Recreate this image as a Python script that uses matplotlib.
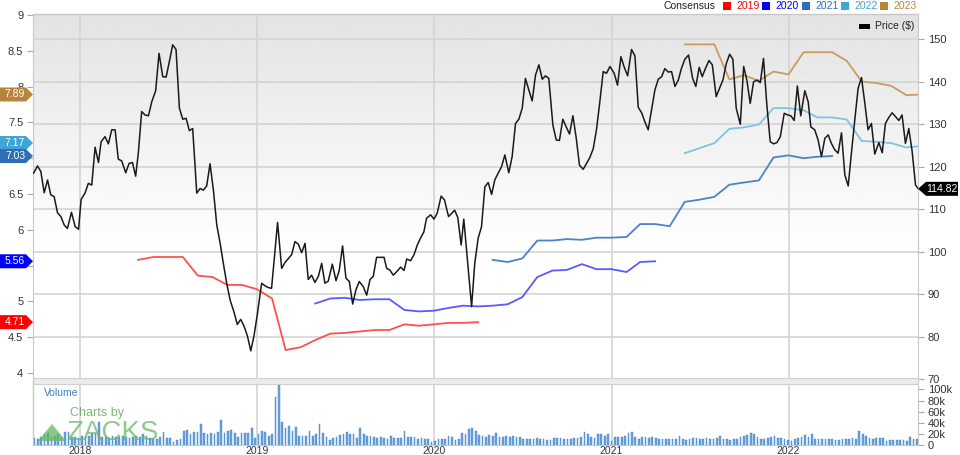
import numpy as np
import pandas as pd
import matplotlib
matplotlib.use('Agg')
import matplotlib.pyplot as plt
from matplotlib.patches import Polygon, Rectangle
from matplotlib.ticker import FuncFormatter

plt.rcParams['font.family'] = ['Liberation Sans', 'DejaVu Sans']

# ---- data ----
# weekly closing price, dates as fractional years
price_t = [
    2017.737, 2017.759, 2017.778, 2017.797, 2017.816, 2017.834, 2017.853, 2017.872, 2017.891, 2017.910,
    2017.928, 2017.951, 2017.972, 2017.991, 2018.006, 2018.028, 2018.047, 2018.066, 2018.085, 2018.104,
    2018.119, 2018.141, 2018.160, 2018.179, 2018.198, 2018.216, 2018.235, 2018.258, 2018.277, 2018.296,
    2018.314, 2018.329, 2018.348, 2018.367, 2018.386, 2018.405, 2018.427, 2018.446, 2018.467, 2018.486,
    2018.504, 2018.523, 2018.542, 2018.561, 2018.580, 2018.599, 2018.617, 2018.636, 2018.659, 2018.678,
    2018.696, 2018.715, 2018.734, 2018.753, 2018.772, 2018.791, 2018.809, 2018.828, 2018.847, 2018.870,
    2018.888, 2018.907, 2018.926, 2018.945, 2018.964, 2018.982, 2019.001,
    2019.026, 2019.045, 2019.063, 2019.082, 2019.116, 2019.139, 2019.158, 2019.195, 2019.214, 2019.233,
    2019.252, 2019.271, 2019.289, 2019.308, 2019.327, 2019.346, 2019.365, 2019.383, 2019.402, 2019.425,
    2019.446, 2019.464, 2019.483, 2019.502, 2019.521, 2019.540, 2019.558, 2019.577, 2019.600, 2019.619,
    2019.638, 2019.656, 2019.675, 2019.698, 2019.717, 2019.732, 2019.750, 2019.769, 2019.788, 2019.811,
    2019.830, 2019.845, 2019.867, 2019.886, 2019.905, 2019.924, 2019.942, 2019.957, 2019.980, 2019.999,
    2020.018, 2020.040, 2020.059, 2020.082, 2020.101, 2020.116, 2020.134, 2020.153, 2020.168, 2020.212,
    2020.230, 2020.249, 2020.268, 2020.287, 2020.306, 2020.325, 2020.343, 2020.362, 2020.381, 2020.400,
    2020.422, 2020.441, 2020.460, 2020.479, 2020.498, 2020.516, 2020.535, 2020.554, 2020.573, 2020.592,
    2020.611, 2020.629, 2020.648, 2020.671, 2020.690, 2020.708, 2020.727, 2020.746, 2020.765, 2020.784,
    2020.803, 2020.821, 2020.842, 2020.861, 2020.880, 2020.899, 2020.917, 2020.936, 2020.955, 2020.974,
    2020.993, 2021.015, 2021.034, 2021.053, 2021.072, 2021.091, 2021.113, 2021.132, 2021.151, 2021.170,
    2021.188, 2021.207, 2021.226, 2021.245, 2021.264, 2021.283, 2021.301, 2021.320, 2021.339, 2021.358,
    2021.377, 2021.395, 2021.414, 2021.435, 2021.458, 2021.476, 2021.495,
    2021.512, 2021.531, 2021.550, 2021.569, 2021.591, 2021.610, 2021.629, 2021.648, 2021.667, 2021.685,
    2021.704, 2021.727, 2021.746, 2021.764, 2021.783, 2021.802, 2021.821, 2021.840, 2021.858, 2021.877,
    2021.896, 2021.915, 2021.934, 2021.953, 2021.975, 2021.994, 2022.013, 2022.032, 2022.050, 2022.069,
    2022.092, 2022.111, 2022.126, 2022.148, 2022.167, 2022.186, 2022.205, 2022.224, 2022.242, 2022.261,
    2022.280, 2022.299, 2022.318, 2022.337, 2022.355, 2022.374, 2022.393, 2022.412, 2022.431, 2022.449,
    2022.468, 2022.487, 2022.510, 2022.529, 2022.547, 2022.566, 2022.585, 2022.604, 2022.623, 2022.641,
    2022.660, 2022.679, 2022.698, 2022.717, 2022.733,
]
price = [
    118.5, 120.2, 118.9, 113.9, 116.9, 113.4, 113.0, 109.2, 108.3, 106.3,
    105.5, 109.3, 105.9, 105.3, 112.3, 113.8, 116.1, 115.7, 124.6, 121.0,
    125.9, 127.1, 125.4, 128.7, 128.7, 121.8, 121.4, 118.6, 120.8, 121.0,
    117.8, 123.2, 133.0, 132.2, 132.0, 135.3, 137.9, 146.7, 141.2, 141.1,
    144.7, 148.7, 147.6, 133.8, 131.2, 131.4, 128.5, 129.0, 113.8, 114.9,
    114.5, 115.5, 120.7, 114.5, 106.3, 102.0, 97.3, 92.6, 88.7, 85.7,
    82.9, 84.1, 82.5, 80.2, 76.7, 80.2, 85.1,
    92.6, 92.0, 91.6, 91.4, 106.9, 96.1, 97.5, 99.3, 102.4, 101.8,
    99.8, 102.0, 93.5, 94.5, 92.8, 94.2, 97.3, 92.6, 93.1, 97.1,
    93.2, 95.6, 101.4, 93.8, 93.0, 87.7, 91.0, 93.0, 91.8, 89.8,
    93.5, 94.2, 98.7, 98.7, 98.7, 96.1, 95.7, 94.5, 95.3, 96.4,
    95.6, 98.3, 97.9, 99.3, 101.6, 103.3, 104.7, 107.9, 108.7, 107.7,
    109.1, 113.1, 112.2, 108.3, 109.1, 109.8, 108.1, 101.6, 107.7, 87.1,
    97.3, 103.2, 105.9, 115.3, 116.3, 113.5, 116.9, 118.5, 120.0, 122.8,
    118.6, 122.4, 130.2, 131.2, 133.8, 140.8, 138.1, 135.5, 141.6, 144.0,
    140.6, 141.4, 140.8, 129.8, 126.3, 126.2, 131.2, 129.4, 127.7, 132.0,
    126.7, 120.4, 119.4, 120.8, 122.2, 124.3, 128.7, 135.3, 142.4, 142.0,
    143.6, 142.0, 139.2, 145.9, 143.4, 141.4, 147.6, 146.1, 134.0, 132.7,
    130.6, 128.7, 133.4, 138.1, 140.6, 141.2, 143.1, 142.3, 142.4, 138.9,
    140.4, 143.2, 145.3, 146.3, 140.8, 138.9, 143.4,
    141.2, 143.2, 145.0, 144.0, 136.5, 138.5, 140.4, 144.3, 146.5, 145.3,
    133.8, 130.0, 143.6, 140.4, 134.9, 140.0, 140.4, 139.8, 145.5, 134.5,
    125.9, 125.4, 125.7, 127.1, 132.6, 132.2, 132.0, 130.9, 139.0, 132.0,
    137.9, 135.3, 129.4, 128.7, 126.3, 122.4, 126.7, 127.5, 125.5, 124.0,
    123.2, 128.0, 118.1, 115.5, 123.2, 131.0, 138.5, 141.0, 134.9, 128.7,
    130.2, 123.0, 125.7, 123.3, 130.2, 131.6, 132.7, 131.8, 130.9, 132.2,
    125.5, 129.0, 123.6, 115.7, 114.82,
]

# monthly consensus EPS estimates by fiscal year
est_2019_m = ['2018-04', '2018-05', '2018-07', '2018-08', '2018-09', '2018-10', '2018-11', '2018-12',
              '2019-01', '2019-02', '2019-03', '2019-04', '2019-05', '2019-06', '2019-08', '2019-09',
              '2019-10', '2019-11', '2019-12', '2020-01', '2020-02', '2020-03']
est_2019 = [5.58, 5.62, 5.62, 5.36, 5.34, 5.23, 5.23, 5.17, 5.04, 4.32, 4.36, 4.46, 4.55, 4.56,
            4.60, 4.60, 4.68, 4.66, 4.68, 4.70, 4.70, 4.71]

est_2020_m = [str(p) for p in pd.period_range('2019-04', '2021-03', freq='M')]
est_2020 = [4.97, 5.04, 5.05, 5.02, 5.03, 5.03, 4.88, 4.86, 4.87, 4.91, 4.94, 4.93,
            4.94, 4.96, 5.06, 5.34, 5.43, 5.44, 5.52, 5.45, 5.45, 5.41, 5.55, 5.56]

est_2021_m = [str(p) for p in pd.period_range('2020-04', '2022-03', freq='M')]
est_2021 = [5.58, 5.55, 5.60, 5.85, 5.85, 5.87, 5.86, 5.89, 5.89, 5.90, 6.08, 6.08,
            6.05, 6.39, 6.42, 6.46, 6.63, 6.66, 6.69, 7.01, 7.04, 7.00, 7.02, 7.03]

est_late_m = ['2021-05', '2021-07', '2021-08', '2021-09', '2021-10', '2021-11', '2021-12', '2022-01',
              '2022-02', '2022-03', '2022-04', '2022-05', '2022-06', '2022-07', '2022-08', '2022-09']
est_2022 = [7.07, 7.21, 7.41, 7.43, 7.47, 7.70, 7.70, 7.67, 7.57, 7.57, 7.54, 7.24, 7.23, 7.21, 7.15, 7.17]
est_2023 = [8.59, 8.59, 8.10, 8.16, 8.08, 8.21, 8.17, 8.48, 8.48, 8.48, 8.36, 8.07, 8.05, 8.01, 7.88, 7.89]

# weekly volume in thousands, first week ending 2017-09-29
volume = [
    12, 11, 14, 19, 21, 14, 17, 19, 15, 23, 23, 15, 14, 13, 17, 14, 16, 19, 20, 42,
    14, 14, 13, 17, 15, 14, 17, 14, 12, 15, 17, 14, 20, 17, 13, 11, 10, 14, 23, 13,
    13, 6, 9, 11, 26, 27, 20, 23, 24, 37, 21, 19, 21, 19, 23, 45, 22, 26, 27, 21,
    14, 21, 21, 21, 30, 13, 20, 26, 23, 17, 19, 87, 108, 41, 31, 34, 26, 32, 17, 17,
    16, 26, 17, 20, 38, 21, 14, 9, 13, 14, 18, 20, 23, 20, 20, 13, 30, 20, 16, 16,
    14, 13, 15, 12, 11, 17, 13, 13, 13, 25, 14, 15, 15, 10, 12, 11, 10, 6, 8, 11,
    11, 10, 17, 14, 9, 11, 21, 20, 28, 30, 26, 18,
    17, 14, 18, 17, 22, 14, 15, 17, 15, 16, 15, 14, 10, 11, 11, 10, 12, 11, 10, 9,
    9, 13, 13, 12, 11, 11, 11, 13, 12, 14, 23, 20, 14, 12, 20, 19, 17, 20, 8, 14,
    14, 14, 17, 21, 23, 14, 10, 14, 15, 13, 14, 12, 11, 11, 11, 11, 11, 11, 17, 11,
    9, 10, 12, 12, 11, 10, 12, 11, 11, 13, 17, 10, 11, 9, 11, 11, 14, 17, 18, 22,
    20, 14, 10, 10, 13, 15, 17, 13, 12, 11, 9, 8, 10, 12, 14, 18, 14, 19, 11, 10,
    10, 10, 10, 10, 9, 9, 10, 11, 11, 12, 11, 26, 20, 17, 13, 11, 13, 13, 13, 8,
    9, 9, 9, 9, 9, 8, 14, 11, 10, 14, 9,
]

years = ['2018', '2019', '2020', '2021', '2022']
legend_years = ['2019', '2020', '2021', '2022', '2023']
legend_cols = ['#ff0000', '#0000ff', '#2f6db5', '#3ea5d6', '#b8843c']
line_cols = ['#ff5050', '#5a5aff', '#4a84c6', '#7fc4e0', '#c99d5e']
last_price = 114.82
# left-axis tick labels that sit fully under a value tag in the original
hidden_ticks = [5.5, 7.0]


def frac_to_date(t):
    y = int(t)
    return pd.Timestamp(year=y, month=1, day=1) + pd.Timedelta(days=(t - y) * 365.25)


def month_end(ms):
    return pd.PeriodIndex(ms, freq='M').to_timestamp(how='end')


price_dates = [frac_to_date(t) for t in price_t]
vol_dates = pd.date_range('2017-09-29', periods=len(volume), freq='7D')
year_dates = [pd.Timestamp(y + '-01-01') for y in years]
xlim = (pd.Timestamp('2017-09-26'), pd.Timestamp('2022-09-25'))

W, H = 960, 455
fig = plt.figure(figsize=(W / 100, H / 100), dpi=100)


def rect(x0, y0, x1, y1):
    return [x0 / W, 1 - y1 / H, (x1 - x0) / W, (y1 - y0) / H]


def fp(x, y):
    return (x / W, 1 - y / H)


main_rect = rect(33, 14, 918, 380)
plim = (69.84, 155.95)
elim = (3.902, 9.014)

# background axis: gradient + grid
bg = fig.add_axes(main_rect, zorder=0)
f = np.linspace(0, 1, 256)
shade = 1 - 0.11 * np.clip((f - 0.35) / 0.65, 0, 1)
bg.imshow(shade[:, None], extent=[0, 1, 0, 1], transform=bg.transAxes, origin='lower',
          aspect='auto', cmap='gray', vmin=0, vmax=1, zorder=0)
bg.set_xlim(xlim)
bg.set_ylim(plim)
bg.set_yticks(range(80, 151, 10))
bg.set_xticks(year_dates)
bg.grid(True, color='#d4d4d4', lw=1.2)
bg.tick_params(left=False, bottom=False, labelleft=False, labelbottom=False)
for s in bg.spines.values():
    s.set_visible(False)

# estimates (left axis)
ax = fig.add_axes(main_rect, zorder=1)
ax.patch.set_alpha(0)
for m, v, c in zip([est_2019_m, est_2020_m, est_2021_m, est_late_m, est_late_m],
                   [est_2019, est_2020, est_2021, est_2022, est_2023], line_cols):
    ax.plot(month_end(m), v, color=c, lw=1.3)
ax.set_xlim(xlim)
ax.set_ylim(elim)
ax.set_yticks(np.arange(4, 9.01, 0.5))
ax.yaxis.set_major_formatter(FuncFormatter(
    lambda v, p: '' if any(abs(v - h) < 1e-6 for h in hidden_ticks) else f'{v:g}'))
ax.tick_params(axis='y', length=4, color='#aaaaaa', labelsize=8, labelcolor='#333333', pad=3)
ax.tick_params(axis='x', bottom=False, labelbottom=False)
for s in ['top', 'bottom', 'right']:
    ax.spines[s].set_visible(False)
ax.spines['left'].set_color('#c8c8c8')

# price (right axis)
axp = ax.twinx()
axp.plot(price_dates, price, color='#1a1a1a', lw=1.1)
axp.set_ylim(plim)
axp.set_xlim(xlim)
axp.set_yticks(range(70, 151, 10))
axp.tick_params(axis='y', length=4, color='#aaaaaa', labelsize=8, labelcolor='#333333', pad=3)
for s in ['top', 'bottom', 'left']:
    axp.spines[s].set_visible(False)
axp.spines['right'].set_color('#c8c8c8')

# volume panel
axv = fig.add_axes(rect(33, 385, 918, 445))
axv.bar(vol_dates, volume, width=3.5, color='#6aa3db', edgecolor='#3f86cf', lw=0.3)
axv.set_xlim(xlim)
axv.set_ylim(0, 108)
axv.set_xticks(year_dates)
axv.set_xticklabels(years)
axv.grid(True, axis='x', color='#d4d4d4', lw=1.2)
axv.set_axisbelow(True)
axv.yaxis.tick_right()
axv.set_yticks(range(0, 101, 20))
axv.set_yticklabels(['0', '20k', '40k', '60k', '80k', '100k'])
axv.tick_params(axis='y', length=4, color='#aaaaaa', labelsize=8, labelcolor='#333333', pad=3)
axv.tick_params(axis='x', length=0, labelsize=7.5, labelcolor='#333333', pad=0.5)
for s in ['top', 'left']:
    axv.spines[s].set_visible(False)
for s in ['right', 'bottom']:
    axv.spines[s].set_color('#c8c8c8')
axv.text(0.012, 0.86, 'Volume', transform=axv.transAxes, color='#3d7cc9', fontsize=7.5,
         va='center')

# separator band between panels and outer frame
fig.add_artist(Rectangle(fp(33, 384), 885 / W, 6 / H, transform=fig.transFigure,
                         facecolor='#ebebeb', edgecolor='#d0d0d0', lw=0.8, zorder=3))
fig.add_artist(plt.Line2D([33 / W, 918 / W], [1 - 14 / H] * 2, color='#c8c8c8', lw=1,
                          transform=fig.transFigure, zorder=3))
fig.add_artist(plt.Line2D([33 / W] * 2, [1 - 445 / H, 1 - 380 / H], color='#c8c8c8', lw=1,
                          transform=fig.transFigure, zorder=3))

# Zacks watermark
fig.add_artist(Polygon([fp(38, 441), fp(52, 424), fp(66, 441)], closed=True,
                       transform=fig.transFigure, facecolor='#63b863', alpha=0.75, lw=0))
fig.text(*fp(70, 413), 'Charts by', color='#5aa85a', alpha=0.8, fontsize=9, va='center')
fig.text(*fp(66, 433), 'ZACKS', color='#6ab86a', alpha=0.75, fontsize=20, va='center')

# consensus legend on top
fig.text(*fp(663, 6), 'Consensus', fontsize=7.5, color='#222222', va='center')
lx = [723, 762, 802, 841, 880]
for x, yr, c in zip(lx, legend_years, legend_cols):
    fig.add_artist(Rectangle(fp(x, 10), 8 / W, 8 / H, transform=fig.transFigure,
                             facecolor=c, lw=0))
    fig.text(*fp(x + 13, 6), yr, fontsize=7.5, color=c, va='center')

fig.add_artist(Rectangle(fp(859, 29), 11 / W, 5 / H, transform=fig.transFigure,
                         facecolor='black', lw=0, zorder=4))
fig.text(*fp(875, 26), 'Price ($)', fontsize=7.5, color='#222222', va='center', zorder=4)

# value tags


def left_tag(val, color, nudge=0):
    ypx = H - ax.transData.transform((0, val))[1] - nudge
    pts = [fp(0, ypx - 7), fp(26, ypx - 7), fp(33, ypx), fp(26, ypx + 7), fp(0, ypx + 7)]
    fig.add_artist(Polygon(pts, closed=True, transform=fig.transFigure, facecolor=color,
                           lw=0, zorder=5))
    fig.text(*fp(15, ypx), f'{val:.2f}', color='white', fontsize=7.5, ha='center',
             va='center', zorder=6)


tag_vals = [est_2023[-1], est_2022[-1], est_2021[-1], est_2020[-1], est_2019[-1]]
tag_cols = [legend_cols[4], legend_cols[3], legend_cols[2], legend_cols[1], legend_cols[0]]
tag_nudge = [0, 3, 0, 0, 0]
for v, c, n in zip(tag_vals, tag_cols, tag_nudge):
    left_tag(v, c, n)

ypx = H - axp.transData.transform((0, last_price))[1]
pts = [fp(918, ypx), fp(926, ypx - 7), fp(958, ypx - 7), fp(958, ypx + 7), fp(926, ypx + 7)]
fig.add_artist(Polygon(pts, closed=True, transform=fig.transFigure, facecolor='black', lw=0,
                       zorder=5))
fig.text(*fp(942, ypx), f'{last_price:.2f}', color='white', fontsize=7.5, ha='center',
         va='center', zorder=6)

fig.savefig('out.png', dpi=100, facecolor='white')
